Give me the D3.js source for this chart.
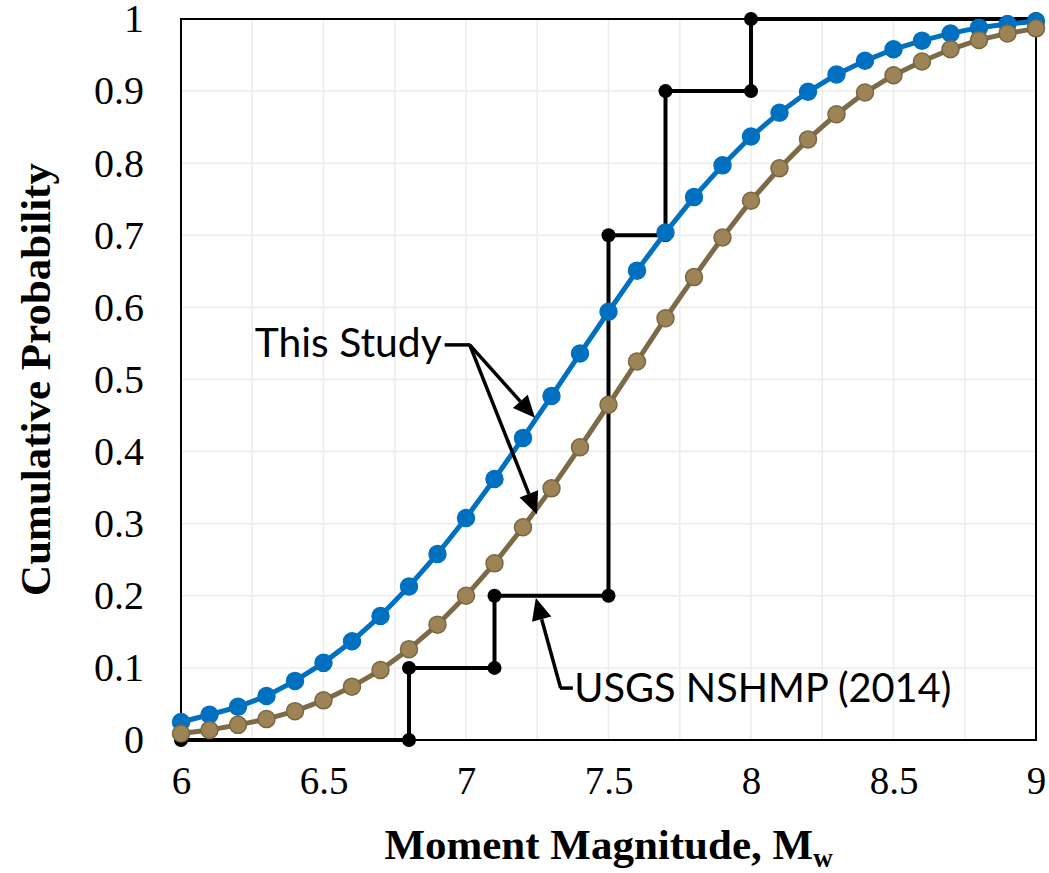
<!DOCTYPE html>
<html lang="en">
	<head>
		<meta charset="utf-8">
		<title>Cumulative probability of moment magnitude</title>
		<script src="https://d3js.org/d3.v7.min.js"></script>
		<style type="text/css">
			body { margin: 0; background: #fff; }
			.tick text { font-family: "Liberation Serif", serif; fill: #000; }
			.note { font-family: Lato, sans-serif; font-size: 41px; fill: #000; }
		</style>
	</head>
	<body>
		<svg id="chart" width="1049" height="873"></svg>

		<script type="text/javascript">

			// magnitude values (x) shared by both curves
			var magnitudes = [6.0, 6.1, 6.2, 6.3, 6.4, 6.5, 6.6, 6.7, 6.8, 6.9,
							  7.0, 7.1, 7.2, 7.3, 7.4, 7.5, 7.6, 7.7, 7.8, 7.9,
							  8.0, 8.1, 8.2, 8.3, 8.4, 8.5, 8.6, 8.7, 8.8, 8.9, 9.0];

			// blue curve (This Study)
			var studyBlue = [0.025, 0.035, 0.046, 0.061, 0.082, 0.107, 0.137, 0.172, 0.213, 0.258,
							 0.308, 0.362, 0.419, 0.477, 0.536, 0.594, 0.651, 0.704, 0.753, 0.797,
							 0.837, 0.870, 0.899, 0.923, 0.942, 0.958, 0.970, 0.980, 0.988, 0.993, 0.997];

			// brown curve (This Study)
			var studyBrown = [0.009, 0.014, 0.021, 0.029, 0.040, 0.055, 0.074, 0.097, 0.126, 0.160,
							  0.200, 0.245, 0.295, 0.349, 0.406, 0.465, 0.525, 0.585, 0.642, 0.697,
							  0.748, 0.793, 0.833, 0.868, 0.898, 0.922, 0.941, 0.958, 0.971, 0.980, 0.987];

			// USGS NSHMP (2014) step function
			var usgsMag  = [6.0, 6.8, 6.8, 7.1, 7.1, 7.5, 7.5, 7.7, 7.7, 8.0, 8.0, 9.0];
			var usgsProb = [0.0, 0.0, 0.1, 0.1, 0.2, 0.2, 0.7, 0.7, 0.9, 0.9, 1.0, 1.0];

			var xTicks = [6, 6.5, 7, 7.5, 8, 8.5, 9];
			var xTickLabels = ["6", "6.5", "7", "7.5", "8", "8.5", "9"];
			var yTicks = [0, 0.1, 0.2, 0.3, 0.4, 0.5, 0.6, 0.7, 0.8, 0.9, 1];
			var yTickLabels = ["0", "0.1", "0.2", "0.3", "0.4", "0.5", "0.6", "0.7", "0.8", "0.9", "1"];

			var svg = d3.select("#chart");
			var margin = {left: 181, top: 19, right: 13, bottom: 133};
			var w = +svg.attr("width") - margin.left - margin.right,
				h = +svg.attr("height") - margin.top - margin.bottom;

			var x = d3.scaleLinear().domain([6, 9]).range([0, w]);
			var y = d3.scaleLinear().domain([0, 1]).range([h, 0]);

			var g = svg.append("g")
						.attr("transform", "translate(" + margin.left + "," + margin.top + ")");

			//Gridlines
			g.append("g")
				.selectAll("line")
				.data(d3.range(6.25, 9, 0.25))
				.enter()
				.append("line")
				.attr("x1", function(d) { return x(d); })
				.attr("x2", function(d) { return x(d); })
				.attr("y1", 0).attr("y2", h)
				.attr("stroke", "#ececec").attr("stroke-width", 1.5);

			g.append("g")
				.selectAll("line")
				.data(yTicks.slice(1, -1))
				.enter()
				.append("line")
				.attr("y1", function(d) { return y(d); })
				.attr("y2", function(d) { return y(d); })
				.attr("x1", 0).attr("x2", w)
				.attr("stroke", "#ececec").attr("stroke-width", 1.5);

			//Axes
			var xAxis = g.append("g")
						.attr("transform", "translate(0," + h + ")")
						.call(d3.axisBottom(x).tickValues(xTicks).tickSize(0).tickPadding(40)
							.tickFormat(function(d, i) { return xTickLabels[i]; }));
			xAxis.select(".domain").remove();
			xAxis.selectAll("text").attr("font-size", 39).attr("dy", "0.35em");

			var yAxis = g.append("g")
						.call(d3.axisLeft(y).tickValues(yTicks).tickSize(0).tickPadding(37)
							.tickFormat(function(d, i) { return yTickLabels[i]; }));
			yAxis.select(".domain").remove();
			yAxis.selectAll("text").attr("font-size", 40);

			//Plot border
			g.append("rect")
				.attr("width", w).attr("height", h)
				.attr("fill", "none")
				.attr("stroke", "#000").attr("stroke-width", 2);

			//USGS step
			var usgs = usgsMag.map(function(m, i) { return {m: m, p: usgsProb[i]}; });
			var line = d3.line()
						.x(function(d) { return x(d.m); })
						.y(function(d) { return y(d.p); });

			g.append("path")
				.datum(usgs)
				.attr("fill", "none")
				.attr("stroke", "#000")
				.attr("stroke-width", 4)
				.attr("d", line);

			g.selectAll("circle.usgs")
				.data(usgs)
				.enter()
				.append("circle")
				.attr("class", "usgs")
				.attr("cx", function(d) { return x(d.m); })
				.attr("cy", function(d) { return y(d.p); })
				.attr("r", 7)
				.attr("fill", "#000");

			//This Study curves
			var drawCurve = function(values, lineColor, fill, stroke) {
				var pts = magnitudes.map(function(m, i) { return {m: m, p: values[i]}; });
				g.append("path")
					.datum(pts)
					.attr("fill", "none")
					.attr("stroke", lineColor)
					.attr("stroke-width", 5)
					.attr("d", line);
				g.append("g")
					.selectAll("circle")
					.data(pts)
					.enter()
					.append("circle")
					.attr("cx", function(d) { return x(d.m); })
					.attr("cy", function(d) { return y(d.p); })
					.attr("r", 8.5)
					.attr("fill", fill)
					.attr("stroke", stroke)
					.attr("stroke-width", 1.5);
			};

			drawCurve(studyBlue, "#0070c0", "#0070c0", "#0070c0");
			drawCurve(studyBrown, "#7d6a48", "#9c8457", "#7a6641");

			//Arrows
			var arrow = function(x1, y1, x2, y2) {
				var ang = Math.atan2(y2 - y1, x2 - x1),
					len = 22, half = 10;
				var bx = x2 - len * Math.cos(ang), by = y2 - len * Math.sin(ang);
				g.append("line")
					.attr("x1", x1).attr("y1", y1)
					.attr("x2", bx).attr("y2", by)
					.attr("stroke", "#000").attr("stroke-width", 3.5);
				g.append("polygon")
					.attr("points", [
						[x2, y2],
						[bx - half * Math.sin(ang), by + half * Math.cos(ang)],
						[bx + half * Math.sin(ang), by - half * Math.cos(ang)]
					].join(" "))
					.attr("fill", "#000");
			};

			// This Study label
			g.append("text")
				.attr("class", "note")
				.attr("x", x(6.915)).attr("y", y(0.531))
				.attr("text-anchor", "end")
				.attr("textLength", 187).attr("lengthAdjust", "spacingAndGlyphs")
				.text("This Study");
			g.append("line")
				.attr("x1", x(6.925)).attr("y1", y(0.548))
				.attr("x2", x(7.015)).attr("y2", y(0.548))
				.attr("stroke", "#000").attr("stroke-width", 3.5);
			arrow(x(7.013), y(0.548), x(7.242), y(0.447));
			arrow(x(7.013), y(0.548), x(7.249), y(0.313));

			// USGS label
			g.append("text")
				.attr("class", "note")
				.attr("x", x(7.38)).attr("y", y(0.053))
				.attr("textLength", 377).attr("lengthAdjust", "spacingAndGlyphs")
				.text("USGS NSHMP (2014)");
			g.append("line")
				.attr("x1", x(7.375)).attr("y1", y(0.072))
				.attr("x2", x(7.33)).attr("y2", y(0.072))
				.attr("stroke", "#000").attr("stroke-width", 3.5);
			arrow(x(7.332), y(0.072), x(7.245), y(0.197));

			//Axis titles
			var xTitle = svg.append("text")
				.attr("x", margin.left + w / 2).attr("y", 859)
				.attr("text-anchor", "middle")
				.attr("font-family", "Liberation Serif, serif")
				.attr("font-weight", "bold")
				.attr("font-size", 43);
			xTitle.append("tspan").text("Moment Magnitude, M");
			xTitle.append("tspan").attr("font-size", 27).attr("dy", 8).text("w");

			svg.append("text")
				.attr("transform", "translate(50," + (margin.top + h / 2) + ") rotate(-90)")
				.attr("text-anchor", "middle")
				.attr("font-family", "Liberation Serif, serif")
				.attr("font-weight", "bold")
				.attr("font-size", 43)
				.text("Cumulative Probability");

		</script>
	</body>
</html>
